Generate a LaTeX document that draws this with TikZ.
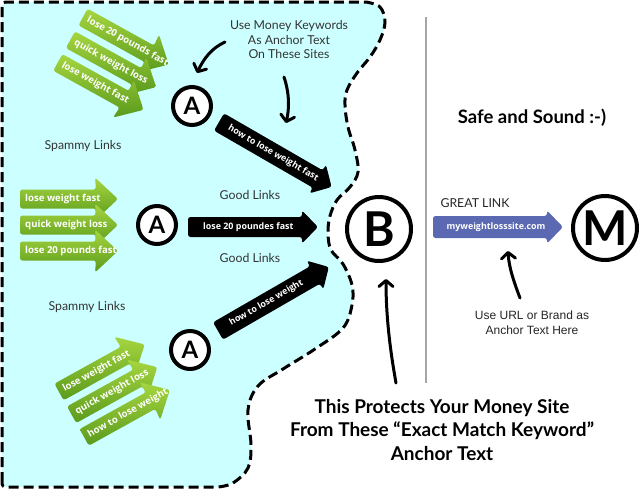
\documentclass[tikz,border=0pt]{standalone}
\usepackage{fontspec}
\setmainfont{Lato}
\newfontfamily\arwfont{Open Sans}
\newfontfamily\arialf{Liberation Sans}
\usetikzlibrary{arrows.meta}
\definecolor{cyanbg}{HTML}{CCFFFF}
\definecolor{gtop}{HTML}{A6D640}
\definecolor{gbot}{HTML}{5A9A1C}
\definecolor{bluearr}{HTML}{5B69B3}
\definecolor{labelgray}{HTML}{333333}
\tikzset{
  lbl/.style={font=\fontsize{12.3}{14.5}\selectfont, text=labelgray, inner sep=0pt},
  circ/.style={circle, draw=black, line width=4pt, fill=white, inner sep=0pt},
  handarrow/.style={line width=3pt, line cap=round, -{Straight Barb[length=6pt,width=14pt,round]}},
  arwtext/.style={font=\arwfont\bfseries\fontsize{8.9}{10}\selectfont, text=white, inner sep=0pt, transform shape},
  grtext/.style={arwtext, font=\arwfont\bfseries\fontsize{9.6}{10}\selectfont},
  border/.style={fill=cyanbg, draw=black, line width=3pt, dash pattern=on 10pt off 5pt},
}
\newcommand\grarw[5]{%
  \begin{scope}[shift={(#2,#3)}, rotate=#4]
    \shade[top color=gtop, bottom color=gbot, rounded corners=2.5pt]
      (0,-9.5) -- (76,-9.5) -- (75,-21.5) -- (98,0) -- (75,21.5) -- (76,9.5) -- (0,9.5) -- cycle;
    \node[grtext, anchor=west] (#1) at (5,0) {#5};
  \end{scope}}
\newcommand\blkarw[7]{%
  \begin{scope}[shift={(#2,#3)}, rotate=#4]
    \fill[black, rounded corners=2.5pt] (0,-10) -- ({#5-16},-10) -- ({#5-16},-16.5) -- (#5,0)
      -- ({#5-16},16.5) -- ({#5-16},10) -- (0,10) -- cycle;
    \node[arwtext, anchor=west] (#1) at (#6,0) {#7};
  \end{scope}}
\begin{document}
\begin{tikzpicture}[x=1pt,y=-1pt]
  \fill[white] (0,0) rectangle (640,490);
  \useasboundingbox (0,0) rectangle (640,490);
  % cyan region
  \path[border] (2,482) -- (2,8) .. controls (2,3) and (3,2) .. (8,2) -- (366,2)
    -- plot[smooth, tension=0.6] coordinates {(366,2) (380,7) (385,22) (380,40) (370,57) (357,73)
       (347,90) (345,105) (348,127) (355,150) (358,172) (350,187) (337,200) (330,216) (328,233)
       (331,250) (343,264) (352,285) (352,305) (343,328) (315,349) (283,369) (258,386) (248,410)
       (251,445) (248,468) (233,483) (218,487)}
    -- (8,487) .. controls (3,487) and (2,486) .. (2,482) -- cycle;
  % divider
  \draw[black!35, line width=1.2pt] (426,17) -- (426,383);
  % green arrows, top group
  \grarw{gt1}{83}{17}{-29}{lose 20 pounds fast}
  \grarw{gt2}{70.4}{39.7}{-29}{quick weight loss}
  \grarw{gt3}{57.8}{62.4}{-29}{lose weight fast}
  % green arrows, middle group
  \grarw{gm1}{20}{199}{0}{lose weight fast}
  \grarw{gm2}{20}{225}{0}{quick weight loss}
  \grarw{gm3}{20}{251}{0}{lose 20 pounds fast}
  % green arrows, bottom group
  \grarw{gb1}{59}{392}{29}{lose weight fast}
  \grarw{gb2}{71.6}{414.7}{29}{quick weight loss}
  \grarw{gb3}{84.2}{437.4}{29}{how to lose weight}
  % black arrows
  \blkarw{bk1}{219}{122}{-30}{130}{11}{how to lose weight fast}
  \blkarw{bk2}{188}{227}{0}{130}{15}{lose 20 poundes fast}
  \blkarw{bk3}{218}{331}{30}{128}{14}{how to lose weight}
  % blue arrow
  \begin{scope}[shift={(433,227)}]
    \fill[bluearr, rounded corners=2.5pt] (0,-11) -- (114,-11) -- (114,-16.5) -- (130,0)
      -- (114,16.5) -- (114,11) -- (0,11) -- cycle;
    \node[arwtext] (url) at (63,0) {myweightlosssite.com};
  \end{scope}
  % circles
  \node[circ, minimum size=38pt] (A1) at (192,106) {\bfseries\fontsize{24}{24}\selectfont A};
  \node[circ, minimum size=38pt] (A2) at (157,225) {\bfseries\fontsize{24}{24}\selectfont A};
  \node[circ, minimum size=38pt] (A3) at (190,350) {\bfseries\fontsize{24}{24}\selectfont A};
  \node[circ, minimum size=64pt] (B) at (379,229) {\bfseries\fontsize{48}{48}\selectfont B};
  \node[circ, minimum size=64pt] (M) at (605,228) {\bfseries\fontsize{48}{48}\selectfont M};
  % labels
  \node[lbl] (sp1) at (83,146) {Spammy Links};
  \node[lbl] (sp2) at (87,307) {Spammy Links};
  \node[lbl] (gl1) at (250,195) {Good Links};
  \node[lbl] (gl2) at (250,258) {Good Links};
  \node[lbl, align=center] (kw) at (289,40) {Use Money Keywords\\As Anchor Text\\On These Sites};
  \node[font=\bfseries\fontsize{18.5}{22}\selectfont, inner sep=0pt] (safe) at (532,118) {Safe and Sound :-)};
  \node[lbl, text=black!85] (great) at (475,203) {GREAT LINK};
  \node[font=\arialf\fontsize{12}{15}\selectfont, align=center, inner sep=0pt, text=black!85] (useurl) at (532,323)
    {Use URL or Brand as\\Anchor Text Here};
  \node[font=\bfseries\fontsize{19}{23.5}\selectfont, align=center, inner sep=0pt] (protect) at (442,430)
    {This Protects Your Money Site\\From These “Exact Match Keyword”\\Anchor Text};
  % hand-drawn arrows
  \coordinate (h1s) at (225,42);  \coordinate (h1e) at (197,73);
  \coordinate (h2s) at (284,77);  \coordinate (h2e) at (286,123);
  \coordinate (h3s) at (396,383); \coordinate (h3e) at (386,279);
  \coordinate (h4s) at (520,298); \coordinate (h4e) at (508,251);
  \draw[handarrow] (h1s) .. controls (212,48) and (204,58) .. (h1e);
  \draw[handarrow] (h2s) .. controls (290,95) and (289,110) .. (h2e);
  \draw[handarrow] (h3s) .. controls (391,355) and (386,320) .. (h3e);
  \draw[handarrow] (h4s) .. controls (514,282) and (509,268) .. (h4e);
\end{tikzpicture}
\end{document}
